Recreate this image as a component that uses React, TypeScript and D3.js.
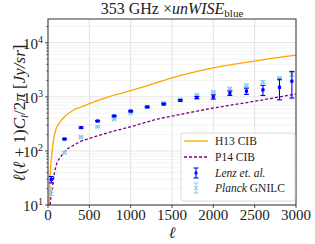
import React from 'react';
import * as d3 from 'd3';

// model curves
const h13Ell = [12, 20, 30, 50, 75, 100, 150, 200, 300, 400, 500, 750, 1000, 1250, 1500, 2000, 2500, 3000];
const h13Val = [10, 22, 45, 100, 190, 260, 350, 430, 560, 650, 750, 1020, 1300, 1700, 2250, 3450, 4600, 5900];
const p14Ell = [25, 35, 52, 80, 112, 150, 194, 300, 395, 500, 760, 1000, 1160, 1355, 1500, 1920, 2500, 3000];
const p14Val = [10, 14, 21, 40, 62, 76, 95, 125, 150, 170, 225, 280, 330, 398, 440, 590, 830, 1130];

// measurements
const binEll = [40, 200, 400, 600, 800, 1000, 1200, 1400, 1600, 1800, 2000, 2200, 2400, 2600, 2800, 2950];
const lenzVal = [29.6, 166, 270, 357, 443, 546, 650, 735, 860, 970, 1000, 1170, 1280, 1345, 1500, 1950];
const lenzErr = [4, 5, 8, 10, 12, 15, 18, 22, 30, 45, 90, 110, 170, 285, 620, 1000];
const planckVal = [18, 93, 181, 280, 385, 500, 660, 770, 890, 1090, 1230, 1410, 1630, 1890, 2190, 2610];
const planckErr = [3, 4, 6, 8, 10, 14, 18, 22, 28, 35, 45, 60, 80, 100, 150, 220];

const xTicks = [0, 500, 1000, 1500, 2000, 2500, 3000];
const yTicks = [10, 100, 1000, 10000];
const yExp = ['1', '2', '3', '4'];

const W = 315, H = 244;
const left = 48, right = 296, top = 19, bottom = 205;
const serif = "'Liberation Serif', 'DejaVu Serif', serif";

const App: React.FC = () => {
  const x = d3.scaleLinear().domain([0, 3000]).range([left, right]);
  const y = d3.scaleLog().domain([10, Math.pow(10, 4.44)]).range([bottom, top]);

  const line = d3.line<[number, number]>()
    .x(d => x(d[0]))
    .y(d => y(d[1]))
    .curve(d3.curveMonotoneX);

  const h13Path = line(h13Ell.map((l, i) => [l, h13Val[i]] as [number, number])) || '';
  const p14Path = line(p14Ell.map((l, i) => [l, p14Val[i]] as [number, number])) || '';

  // minor log grid
  const minor: number[] = [];
  for (let e = 1; e <= 4; e++) {
    for (let k = 2; k <= 9; k++) {
      const v = k * Math.pow(10, e);
      if (v < Math.pow(10, 4.44)) minor.push(v);
    }
  }

  const cap = 2.5;

  return (
    <svg width={W} height={H} style={{ position: 'absolute', left: 0, top: 0, background: '#fff' }}>
      <defs>
        <clipPath id="plot">
          <rect x={left} y={top} width={right - left} height={bottom - top} />
        </clipPath>
      </defs>

      {/* grid */}
      <g stroke="#ebebeb" strokeWidth={0.6}>
        {minor.map(v => (
          <line key={'m' + v} x1={left} x2={right} y1={y(v)} y2={y(v)} />
        ))}
      </g>
      <g stroke="#dcdcdc" strokeWidth={0.8}>
        {yTicks.map(v => (
          <line key={'gy' + v} x1={left} x2={right} y1={y(v)} y2={y(v)} />
        ))}
        {xTicks.map(v => (
          <line key={'gx' + v} x1={x(v)} x2={x(v)} y1={top} y2={bottom} />
        ))}
      </g>

      <g clipPath="url(#plot)">
        <path d={h13Path} fill="none" stroke="#FFA500" strokeWidth={1.3} />
        <path d={p14Path} fill="none" stroke="#800080" strokeWidth={1.3} strokeDasharray="3,2" />

        {/* Planck GNILC */}
        {binEll.map((l, i) => {
          const cx = x(l), cy = y(planckVal[i]);
          const y0 = y(planckVal[i] - planckErr[i]), y1 = y(planckVal[i] + planckErr[i]);
          return (
            <g key={'p' + l} stroke="#87CEEB" strokeWidth={1}>
              <line x1={cx} x2={cx} y1={y0} y2={y1} />
              <line x1={cx - cap} x2={cx + cap} y1={y0} y2={y0} />
              <line x1={cx - cap} x2={cx + cap} y1={y1} y2={y1} />
              <path d={`M${cx - 2},${cy - 2}L${cx + 2},${cy + 2}M${cx - 2},${cy + 2}L${cx + 2},${cy - 2}`} strokeWidth={1.2} />
            </g>
          );
        })}

        {/* Lenz et al. */}
        {binEll.map((l, i) => {
          const cx = x(l), cy = y(lenzVal[i]);
          const y0 = y(lenzVal[i] - lenzErr[i]), y1 = y(lenzVal[i] + lenzErr[i]);
          return (
            <g key={'l' + l} stroke="#0000FF" strokeWidth={1.1}>
              <line x1={cx} x2={cx} y1={y0} y2={y1} />
              <line x1={cx - cap} x2={cx + cap} y1={y0} y2={y0} />
              <line x1={cx - cap} x2={cx + cap} y1={y1} y2={y1} />
              <rect x={cx - 1.6} y={cy - 1.6} width={3.2} height={3.2} fill="#0000FF" stroke="none" />
            </g>
          );
        })}
      </g>

      {/* frame */}
      <rect x={left} y={top} width={right - left} height={bottom - top} fill="none" stroke="#222" strokeWidth={0.9} />

      {/* x axis */}
      <g fontFamily={serif} fontSize={15} fill="#222">
        {xTicks.map(v => (
          <g key={'tx' + v}>
            <line x1={x(v)} x2={x(v)} y1={bottom} y2={bottom + 3} stroke="#222" strokeWidth={0.8} />
            <text x={x(v)} y={bottom + 15} textAnchor="middle">{v}</text>
          </g>
        ))}
        <text x={(left + right) / 2} y={238} textAnchor="middle" fontStyle="italic" fontSize={16}>ℓ</text>
      </g>

      {/* y axis */}
      <g fontFamily={serif} fontSize={15} fill="#222">
        {yTicks.map((v, i) => (
          <g key={'ty' + v}>
            <line x1={left - 3} x2={left} y1={y(v)} y2={y(v)} stroke="#222" strokeWidth={0.8} />
            <text x={left - 5} y={y(v) + 6} textAnchor="end">
              10<tspan dy={-6} fontSize={10}>{yExp[i]}</tspan>
            </text>
          </g>
        ))}
        {minor.map(v => (
          <line key={'my' + v} x1={left - 1.8} x2={left} y1={y(v)} y2={y(v)} stroke="#222" strokeWidth={0.6} />
        ))}
        <text transform={`translate(25,113) rotate(-90)`} textAnchor="middle" fontSize={17}>
          <tspan fontStyle="italic">ℓ</tspan>(<tspan fontStyle="italic">ℓ</tspan> + 1)<tspan fontStyle="italic">C</tspan><tspan fontStyle="italic" fontSize={11} dy={3}>l</tspan><tspan dy={-3}>/2</tspan><tspan fontStyle="italic">π</tspan>  [<tspan fontStyle="italic">Jy/sr</tspan>]
        </text>
      </g>

      {/* title */}
      <text x={172} y={14} textAnchor="middle" fontFamily={serif} fontSize={16} fill="#222">
        353 GHz ×<tspan fontStyle="italic">unWISE</tspan><tspan fontSize={11} dy={3}>blue</tspan>
      </text>

      {/* legend */}
      <g fontFamily={serif} fontSize={11.5} fill="#222">
        <rect x={181} y={133} width={114} height={68} rx={2.5} fill="#fff" fillOpacity={0.85} stroke="#d0d0d0" strokeWidth={0.8} />
        <line x1={184} x2={208} y1={141} y2={141} stroke="#FFA500" strokeWidth={1.3} />
        <text x={215} y={145}>H13 CIB</text>
        <line x1={184} x2={208} y1={157} y2={157} stroke="#800080" strokeWidth={1.3} strokeDasharray="3,2" />
        <text x={215} y={161}>P14 CIB</text>
        <g stroke="#0000FF" strokeWidth={1.1}>
          <line x1={196} x2={196} y1={168} y2={178} />
          <line x1={196 - cap} x2={196 + cap} y1={168} y2={168} />
          <line x1={196 - cap} x2={196 + cap} y1={178} y2={178} />
          <rect x={194.6} y={171.6} width={2.8} height={2.8} fill="#0000FF" stroke="none" />
        </g>
        <text x={215} y={177} fontStyle="italic">Lenz et. al.</text>
        <g stroke="#87CEEB" strokeWidth={1}>
          <line x1={196} x2={196} y1={183} y2={193} />
          <line x1={196 - cap} x2={196 + cap} y1={183} y2={183} />
          <line x1={196 - cap} x2={196 + cap} y1={193} y2={193} />
          <path d="M194,186L198,190M194,190L198,186" />
        </g>
        <text x={215} y={192}><tspan fontStyle="italic">Planck</tspan> GNILC</text>
      </g>
    </svg>
  );
};

export default App;
